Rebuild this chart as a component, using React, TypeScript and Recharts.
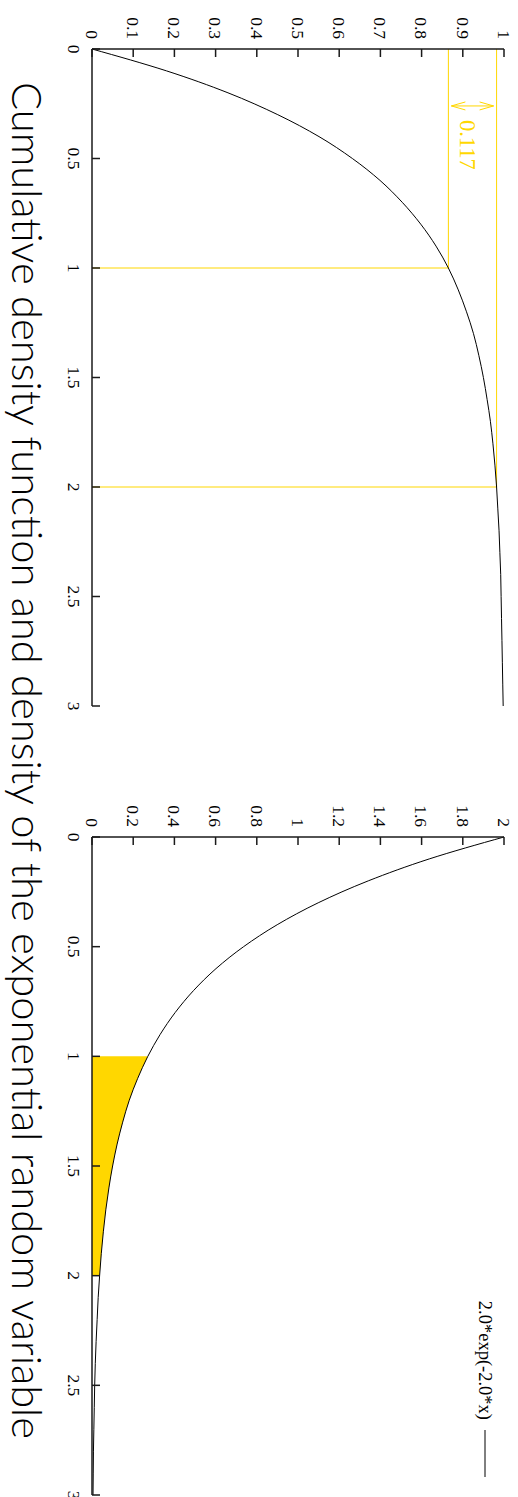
import { ComposedChart, Line, Area, XAxis, YAxis, ReferenceLine, Legend } from "recharts";

// x grid and values
const xValues = [
  0, 0.1, 0.2, 0.3, 0.4, 0.5, 0.6, 0.7, 0.8, 0.9, 1, 1.1, 1.2, 1.3, 1.4, 1.5,
  1.6, 1.7, 1.8, 1.9, 2, 2.1, 2.2, 2.3, 2.4, 2.5, 2.6, 2.7, 2.8, 2.9, 3,
];
const cdfValues = [
  0, 0.181, 0.33, 0.451, 0.551, 0.632, 0.699, 0.753, 0.798, 0.835, 0.865, 0.889,
  0.909, 0.926, 0.939, 0.95, 0.959, 0.967, 0.973, 0.978, 0.982, 0.985, 0.988,
  0.99, 0.992, 0.993, 0.994, 0.995, 0.996, 0.997, 0.998,
];
const densityValues = [
  2, 1.637, 1.341, 1.098, 0.899, 0.736, 0.602, 0.493, 0.404, 0.331, 0.271, 0.222,
  0.181, 0.149, 0.122, 0.1, 0.082, 0.067, 0.055, 0.045, 0.037, 0.03, 0.025, 0.02,
  0.016, 0.013, 0.011, 0.009, 0.007, 0.006, 0.005,
];

const xTicks = [0, 0.5, 1, 1.5, 2, 2.5, 3];
const cdfTicks = [0, 0.1, 0.2, 0.3, 0.4, 0.5, 0.6, 0.7, 0.8, 0.9, 1];
const densityTicks = [0, 0.2, 0.4, 0.6, 0.8, 1, 1.2, 1.4, 1.6, 1.8, 2];

const shadeRange = [1, 2];
const markX = [1, 2];
const markCdf = [0.865, 0.982];
const arrowX = 0.26;
const gapLabel = "0.117";
const seriesName = "2.0*exp(-2.0*x)";
const title = "Cumulative density function and density of the exponential random variable";

const GOLD = "#FFD700";
const AXIS = "#1a1a1a";
const SERIF = "'Liberation Serif', 'Times New Roman', serif";
const tickFont = { fontSize: 17.5, fill: "#000", fontFamily: SERIF };
const axisLine = { stroke: AXIS, strokeWidth: 1.5 };
const noLabel = () => <g />;

const cdfData = xValues.map((x, i) => ({ x, cdf: cdfValues[i] }));
const densityData = xValues.map((x, i) => ({
  x,
  density: densityValues[i],
  shade: x >= shadeRange[0] && x <= shadeRange[1] ? densityValues[i] : null,
}));

function DoubleArrow(props: any) {
  const { x1, y1, x2, y2 } = props;
  const top = Math.min(y1, y2) + 3;
  const bot = Math.max(y1, y2) - 3;
  const h = 14;
  const w = 4;
  return (
    <g stroke={GOLD} strokeWidth={1} fill="none">
      <line x1={x1} y1={top} x2={x2} y2={bot} />
      <polyline points={`${x1 - w},${top + h} ${x1},${top} ${x1 + w},${top + h}`} />
      <polyline points={`${x1 - w},${bot - h} ${x1},${bot} ${x1 + w},${bot - h}`} />
      <text
        x={x1 + 14}
        y={(top + bot) / 2 + 12}
        fill={GOLD}
        stroke="none"
        fontFamily={SERIF}
        fontSize={22.5}
      >
        {gapLabel}
      </text>
    </g>
  );
}

function LegendBox({ payload }: any) {
  const items = (payload || []).filter((p: any) => p.type !== "none");
  return (
    <div>
      {items.map((p: any) => (
        <div key={p.value} style={{ display: "flex", alignItems: "center" }}>
          <span style={{ fontFamily: SERIF, fontSize: 18.5, color: "#000", lineHeight: "20px" }}>
            {p.value}
          </span>
          <svg width={47} height={4} style={{ marginLeft: 10 }}>
            <line x1={0} y1={2} x2={47} y2={2} stroke="#000" strokeWidth={1} />
          </svg>
        </div>
      ))}
    </div>
  );
}

function CdfPlot() {
  return (
    <ComposedChart
      width={760}
      height={518}
      data={cdfData}
      margin={{ top: 14, right: 54, bottom: 62, left: 0 }}
    >
      <XAxis
        dataKey="x"
        type="number"
        domain={[0, 3]}
        ticks={xTicks}
        interval={0}
        height={30}
        tickSize={-8}
        tickMargin={20}
        axisLine={axisLine}
        tickLine={axisLine}
        tick={tickFont}
      />
      <XAxis
        xAxisId="top"
        orientation="top"
        dataKey="x"
        type="number"
        domain={[0, 3]}
        ticks={xTicks}
        interval={0}
        height={0}
        tickSize={-8}
        axisLine={axisLine}
        tickLine={axisLine}
        tick={noLabel}
      />
      <YAxis
        type="number"
        domain={[0, 1]}
        ticks={cdfTicks}
        interval={0}
        width={49}
        tickSize={-8}
        tickMargin={18}
        axisLine={axisLine}
        tickLine={axisLine}
        tick={tickFont}
      />
      <YAxis
        yAxisId="right"
        orientation="right"
        type="number"
        domain={[0, 1]}
        ticks={cdfTicks}
        interval={0}
        width={0}
        tickSize={-8}
        axisLine={axisLine}
        tickLine={axisLine}
        tick={noLabel}
      />
      {markX.map((mx, i) => (
        <ReferenceLine
          key={"v" + i}
          segment={[{ x: mx, y: 0 }, { x: mx, y: markCdf[i] }]}
          stroke={GOLD}
          strokeWidth={1}
        />
      ))}
      {markX.map((mx, i) => (
        <ReferenceLine
          key={"h" + i}
          segment={[{ x: 0, y: markCdf[i] }, { x: mx, y: markCdf[i] }]}
          stroke={GOLD}
          strokeWidth={1}
        />
      ))}
      <ReferenceLine
        segment={[{ x: arrowX, y: markCdf[0] }, { x: arrowX, y: markCdf[1] }]}
        shape={DoubleArrow}
      />
      <Line
        dataKey="cdf"
        type="monotone"
        stroke="#000"
        strokeWidth={1}
        dot={false}
        isAnimationActive={false}
      />
    </ComposedChart>
  );
}

function DensityPlot() {
  return (
    <ComposedChart
      width={737}
      height={518}
      data={densityData}
      margin={{ top: 14, right: 2, bottom: 62, left: 28 }}
    >
      <XAxis
        dataKey="x"
        type="number"
        domain={[0, 3]}
        ticks={xTicks}
        interval={0}
        height={30}
        tickSize={-8}
        tickMargin={20}
        axisLine={axisLine}
        tickLine={axisLine}
        tick={tickFont}
      />
      <XAxis
        xAxisId="top"
        orientation="top"
        dataKey="x"
        type="number"
        domain={[0, 3]}
        ticks={xTicks}
        interval={0}
        height={0}
        tickSize={-8}
        axisLine={axisLine}
        tickLine={axisLine}
        tick={noLabel}
      />
      <YAxis
        type="number"
        domain={[0, 2]}
        ticks={densityTicks}
        interval={0}
        width={49}
        tickSize={-8}
        tickMargin={18}
        axisLine={axisLine}
        tickLine={axisLine}
        tick={tickFont}
      />
      <YAxis
        yAxisId="right"
        orientation="right"
        type="number"
        domain={[0, 2]}
        ticks={densityTicks}
        interval={0}
        width={0}
        tickSize={-8}
        axisLine={axisLine}
        tickLine={axisLine}
        tick={noLabel}
      />
      <Area
        dataKey="shade"
        type="monotone"
        stroke="none"
        fill={GOLD}
        fillOpacity={1}
        legendType="none"
        isAnimationActive={false}
      />
      <Line
        dataKey="density"
        name={seriesName}
        type="monotone"
        stroke="#000"
        strokeWidth={1}
        dot={false}
        isAnimationActive={false}
      />
      <Legend
        layout="horizontal"
        verticalAlign="middle"
        align="center"
        wrapperStyle={{ top: 23, right: 20, left: "auto", width: "auto" }}
        content={LegendBox}
      />
    </ComposedChart>
  );
}

export default function App() {
  return (
    <div
      style={{
        position: "absolute",
        left: 0,
        top: 0,
        width: 518,
        height: 1497,
        overflow: "hidden",
        background: "#fff",
      }}
    >
      <div
        style={{
          position: "absolute",
          left: 0,
          top: 0,
          width: 1497,
          height: 518,
          transform: "translate(518px, 0px) rotate(90deg)",
          transformOrigin: "0 0",
        }}
      >
        <div style={{ position: "absolute", left: 0, top: 0 }}>
          <CdfPlot />
        </div>
        <div style={{ position: "absolute", left: 760, top: 0 }}>
          <DensityPlot />
        </div>
        <div
          style={{
            position: "absolute",
            left: 82,
            top: 465,
            fontFamily: "Lato, 'Open Sans', sans-serif",
            fontWeight: 300,
            fontSize: 41.7,
            lineHeight: "50px",
            whiteSpace: "nowrap",
            color: "#000",
          }}
        >
          {title}
        </div>
      </div>
    </div>
  );
}
